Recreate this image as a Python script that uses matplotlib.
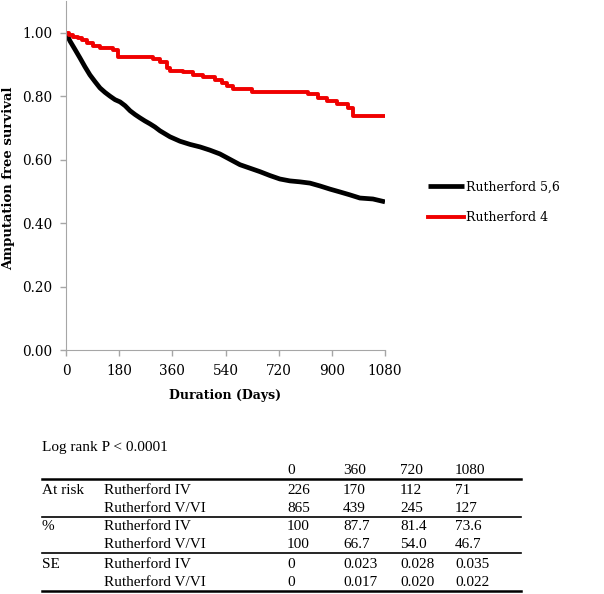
import matplotlib
matplotlib.use('Agg')
import matplotlib.pyplot as plt
from matplotlib.lines import Line2D


# Kaplan-Meier curves (days, survival)
r4_days = [0, 10, 25, 40, 55, 70, 92, 115, 160, 177, 296, 318, 341, 352, 397, 431,
           465, 504, 527, 545, 565, 630, 820, 853, 883, 917, 955, 972, 1080]
r4_surv = [1.0, 0.994, 0.988, 0.982, 0.976, 0.967, 0.957, 0.952, 0.946, 0.922, 0.917,
           0.909, 0.888, 0.880, 0.875, 0.868, 0.859, 0.852, 0.840, 0.831, 0.823, 0.814,
           0.806, 0.794, 0.785, 0.775, 0.763, 0.736, 0.736]

r56_days = [0, 5, 14, 30, 47, 64, 81, 98, 115, 132, 149, 166, 183, 200, 217, 234, 250,
            267, 284, 301, 318, 352, 386, 420, 454, 487, 521, 555, 589, 623, 657, 690,
            724, 758, 792, 826, 860, 894, 928, 961, 995, 1039, 1080]
r56_surv = [1.0, 0.99, 0.973, 0.948, 0.921, 0.893, 0.867, 0.846, 0.826, 0.812, 0.800,
            0.789, 0.782, 0.770, 0.754, 0.742, 0.732, 0.722, 0.713, 0.703, 0.691, 0.672,
            0.658, 0.648, 0.640, 0.630, 0.618, 0.601, 0.584, 0.573, 0.562, 0.550, 0.539,
            0.533, 0.530, 0.526, 0.517, 0.507, 0.498, 0.489, 0.479, 0.476, 0.467]

x_ticks = [0, 180, 360, 540, 720, 900, 1080]
y_ticks = [0.0, 0.2, 0.4, 0.6, 0.8, 1.0]

# table under the plot
table_times = ['0', '360', '720', '1080']
group_names = ['At risk', '%', 'SE']
row_names = ['Rutherford IV', 'Rutherford V/VI']
at_risk = [['226', '170', '112', '71'], ['865', '439', '245', '127']]
percent = [['100', '87.7', '81.4', '73.6'], ['100', '66.7', '54.0', '46.7']]
std_err = [['0', '0.023', '0.028', '0.035'], ['0', '0.017', '0.020', '0.022']]

W, H = 604, 594
fig = plt.figure(figsize=(W / 100, H / 100), dpi=100)

ax = fig.add_axes([66 / W, 1 - 350 / H, (385 - 66) / W, 349 / H])
ax.plot(r56_days, r56_surv, color='black', lw=3.4, solid_capstyle='butt',
        label='Rutherford 5,6')
ax.step(r4_days, r4_surv, where='post', color='#f00000', lw=2.8,
        label='Rutherford 4')
ax.set_xlim(0, 1080)
ax.set_ylim(0, 1.10)
ax.set_xticks(x_ticks)
ax.set_yticks(y_ticks)
ax.set_xticklabels([str(t) for t in x_ticks], family='DejaVu Serif', fontsize=9.8)
ax.set_yticklabels([f'{t:.2f}' for t in y_ticks], family='DejaVu Serif', fontsize=9.8)
for s in ['top', 'right']:
    ax.spines[s].set_visible(False)
for s in ['left', 'bottom']:
    ax.spines[s].set_color('#a6a6a6')
ax.tick_params(color='#a6a6a6', length=4, width=1, pad=6)
ax.set_xlabel('Duration (Days)', family='DejaVu Serif', fontweight='bold',
              fontsize=9, labelpad=8)
ax.set_ylabel('Amputation free survival', family='DejaVu Serif', fontweight='bold',
              fontsize=9.5)
ax.yaxis.set_label_coords(-0.16, 0.493)
ax.legend(loc='center left', bbox_to_anchor=(1.1, 0.423), frameon=False,
          prop={'family': 'DejaVu Serif', 'size': 9}, handlelength=2.9,
          handletextpad=0.1, labelspacing=1.38)

# table drawn in pixel coordinates
tab = fig.add_axes([0, 0, 1, 1])
tab.set_xlim(0, W)
tab.set_ylim(H, 0)
tab.axis('off')
tab.patch.set_alpha(0)

tfont = {'family': 'Liberation Serif', 'size': 11, 'va': 'center', 'ha': 'left'}
col_x = [287, 343, 400, 455]
tab.text(42, 448, 'Log rank P < 0.0001', **tfont)
for x, t in zip(col_x, table_times):
    tab.text(x, 471, t, **tfont)

rule_y = [479, 516.5, 553, 591]
for i, y in enumerate(rule_y):
    lw = 1.8 if i in (0, 3) else 1.2
    tab.add_line(Line2D([42, 521], [y, y], color='black', lw=lw))

row_y = [[490.5, 508], [527, 545], [564, 582.5]]
for g, name in enumerate(group_names):
    vals = [at_risk, percent, std_err][g]
    tab.text(42, row_y[g][0], name, **tfont)
    for r in range(2):
        tab.text(104, row_y[g][r], row_names[r], **tfont)
        for x, v in zip(col_x, vals[r]):
            tab.text(x, row_y[g][r], v, **tfont)

fig.savefig('out.png', dpi=100)
